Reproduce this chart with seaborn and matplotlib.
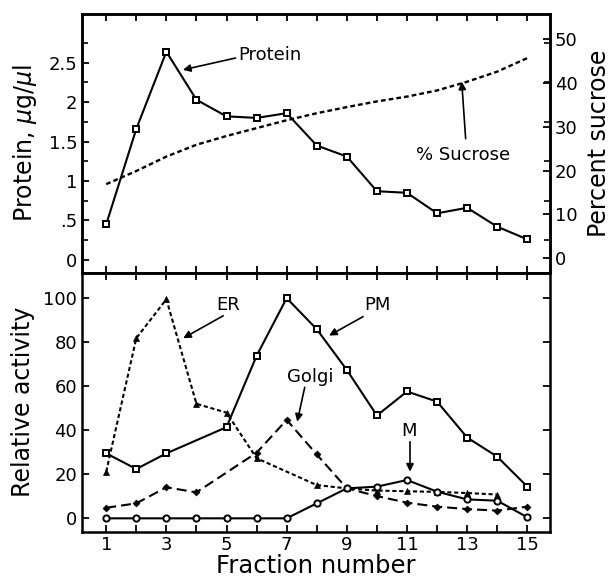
import numpy as np
import pandas as pd
import matplotlib
matplotlib.use("Agg")
import matplotlib.pyplot as plt
import seaborn as sns

# fraction numbers
fractions = list(range(1, 16))

# top panel
protein = [0.45, 1.66, 2.64, 2.03, 1.82, 1.80, 1.86, 1.45, 1.31, 0.87, 0.85, 0.59, 0.66, 0.42, 0.26]
sucrose = [16.9, 19.9, 23.2, 25.9, 27.9, 29.7, 31.5, 33.1, 34.5, 35.8, 36.9, 38.3, 40.3, 42.6, 45.7]

# bottom panel (relative activity, %)
pm_frac = [1, 2, 3, 5, 6, 7, 8, 9, 10, 11, 12, 13, 14, 15]
pm_act = [29.5, 22.4, 29.5, 41.4, 73.8, 100, 85.9, 67.4, 46.7, 57.6, 53.0, 36.7, 28.0, 14.4]

er_frac = [1, 2, 3, 4, 5, 6, 8, 9, 10, 11, 12, 13, 14]
er_act = [21.2, 81.8, 99.5, 52.0, 48.0, 27.3, 15.1, 13.6, 12.6, 12.3, 12.0, 11.5, 10.8]

golgi_frac = [1, 2, 3, 4, 6, 7, 8, 9, 10, 11, 12, 13, 14, 15]
golgi_act = [4.8, 6.8, 14.1, 11.8, 29.8, 44.7, 29.0, 13.6, 10.1, 7.1, 5.3, 4.2, 3.5, 5.3]

m_act = [0, 0, 0, 0, 0, 0, 0, 6.8, 13.6, 14.4, 17.4, 12.1, 8.6, 8.0, 0.5]

sns.set_style("ticks")
plt.rcParams["font.family"] = ["DejaVu Sans"]
plt.rcParams["axes.linewidth"] = 1.8
for key in ("text.color", "axes.labelcolor", "xtick.color", "ytick.color", "axes.edgecolor"):
    plt.rcParams[key] = "black"

fig = plt.figure(figsize=(6.13, 5.78), dpi=100)
ax_top = fig.add_axes([0.134, 0.528, 0.763, 0.448])
ax_bot = fig.add_axes([0.134, 0.080, 0.763, 0.448])
ax_sec = ax_top.twinx()

k = dict(color="black", lw=1.5)

# protein + sucrose
sns.lineplot(x=fractions, y=protein, ax=ax_top, marker="s", markersize=4.5,
             markerfacecolor="white", markeredgecolor="black", markeredgewidth=1.4, **k)
sns.lineplot(x=fractions, y=sucrose, ax=ax_sec, linestyle=(0, (2.0, 1.3)), color="black", lw=1.7)

# fractions activity
sns.lineplot(x=pm_frac, y=pm_act, ax=ax_bot, marker="s", markersize=4.5,
             markerfacecolor="white", markeredgecolor="black", markeredgewidth=1.4, **k)
sns.lineplot(x=er_frac, y=er_act, ax=ax_bot, marker="^", markersize=5,
             markerfacecolor="black", markeredgecolor="black", markeredgewidth=0.5,
             linestyle=(0, (2.0, 1.3)), **k)
sns.lineplot(x=golgi_frac, y=golgi_act, ax=ax_bot, marker="D", markersize=3.5,
             markerfacecolor="black", markeredgecolor="black", markeredgewidth=0.5,
             linestyle=(0, (4.8, 2.4)), **k)
sns.lineplot(x=fractions, y=m_act, ax=ax_bot, marker="o", markersize=4.5,
             markerfacecolor="white", markeredgecolor="black", markeredgewidth=1.4, **k)

# axes limits and ticks
for ax in (ax_top, ax_bot):
    ax.set_xlim(0.2, 15.75)
    ax.set_xticks(range(1, 16))
    ax.tick_params(axis="both", which="both", direction="in", top=True, right=True,
                   width=1.3, length=5, labelsize=13)

ax_top.set_ylim(-0.165, 3.12)
ax_top.set_yticks([0, 0.5, 1, 1.5, 2, 2.5])
ax_top.set_yticklabels(["0", ".5", "1", "1.5", "2", "2.5"])
ax_top.set_yticks(np.arange(0, 2.76, 0.25), minor=True)
ax_top.tick_params(axis="y", which="minor", direction="in", length=4, width=1.2)
ax_top.tick_params(axis="y", right=False)
ax_top.tick_params(axis="x", labelbottom=False)

ax_sec.set_ylim(-3.36, 55.8)
ax_sec.set_yticks(range(0, 51, 10))
ax_sec.tick_params(axis="y", direction="in", width=1.3, length=5, labelsize=13)
ax_sec.spines["right"].set_linewidth(1.8)

ax_bot.set_ylim(-6.1, 111.5)
ax_bot.set_yticks(range(0, 101, 20))
ax_bot.set_xticklabels([str(f) if f % 2 == 1 else "" for f in range(1, 16)])
ax_bot.tick_params(axis="x", pad=3)

# labels
ax_top.set_ylabel("Protein, $\\mu$g/$\\mu$l", fontsize=17)
ax_top.yaxis.set_label_coords(-0.092, 0.5)
ax_sec.set_ylabel("Percent sucrose", fontsize=17, rotation=90)
ax_sec.yaxis.set_label_coords(1.079, 0.5)
ax_bot.set_ylabel("Relative activity", fontsize=17)
ax_bot.yaxis.set_label_coords(-0.10, 0.5)
ax_bot.set_xlabel("Fraction number", fontsize=17.5)
ax_bot.xaxis.set_label_coords(0.5, -0.085)

arr = dict(arrowstyle="-|>", color="black", lw=1.2, mutation_scale=11, shrinkA=0, shrinkB=0)

ax_top.text(5.4, 2.6, "Protein", fontsize=13, va="center", ha="left")
ax_top.annotate("", xy=(3.55, 2.41), xytext=(5.3, 2.56), arrowprops=arr)

ax_sec.text(12.88, 23.6, "% Sucrose", fontsize=13, va="center", ha="center")
ax_sec.annotate("", xy=(12.82, 40.3), xytext=(12.95, 27.3), arrowprops=arr)

ax_bot.text(5.06, 97, "ER", fontsize=13, va="center", ha="center")
ax_bot.annotate("", xy=(3.56, 81.8), xytext=(4.89, 92), arrowprops=arr)
ax_bot.text(10.03, 97, "PM", fontsize=13, va="center", ha="center")
ax_bot.annotate("", xy=(8.41, 83), xytext=(9.54, 91.6), arrowprops=arr)
ax_bot.text(7.77, 64.4, "Golgi", fontsize=13, va="center", ha="center")
ax_bot.annotate("", xy=(7.35, 43.9), xytext=(7.6, 59.5), arrowprops=arr)
ax_bot.text(11.06, 39.5, "M", fontsize=13, va="center", ha="center")
ax_bot.annotate("", xy=(11.1, 21.2), xytext=(11.1, 34.8), arrowprops=arr)

fig.savefig("out.png", dpi=100)
